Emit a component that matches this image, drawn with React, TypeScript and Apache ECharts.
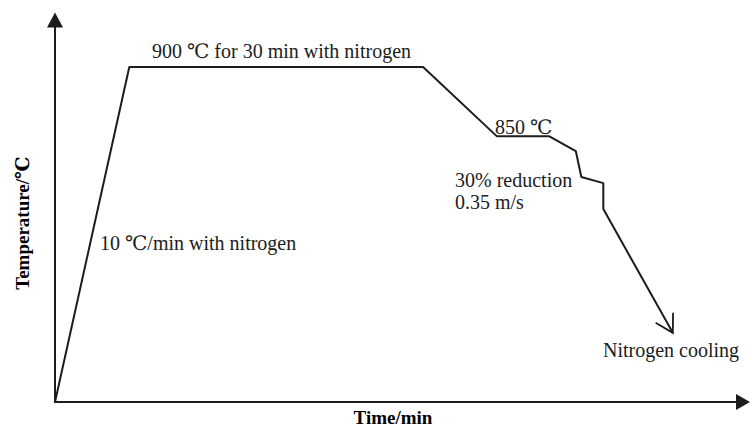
import React, { useEffect, useRef } from "react";
import * as echarts from "echarts";

// Schematic process route (abstract units 0–100 on both axes)
const timePts = [0, 10.8, 53.5, 64.2, 71.8, 75.7, 76.5, 79.7, 79.7, 89.8];
const tempPts = [0, 87.7, 87.7, 69.6, 69.6, 65.7, 58.9, 57.3, 50.5, 18.1];

const annotations = [
  "900 \u2103 for 30 min with nitrogen",
  "850 \u2103",
  "30% reduction",
  "0.35 m/s",
  "10 \u2103/min with nitrogen",
  "Nitrogen cooling",
];
const xTitle = "Time/min";
const yTitle = "Temperature/\u2103";

const FONT = "'Liberation Serif', 'Times New Roman', 'DejaVu Serif', serif";
const INK = "#1c1c1c";

export default function App() {
  const ref = useRef<HTMLDivElement>(null);

  useEffect(() => {
    document.body.style.margin = "0";
    const chart = echarts.init(ref.current!, undefined, { renderer: "svg" });
    const data = timePts.map((t, i) => [t, tempPts[i]]);

    const annPos: [number, number][] = [
      [152, 51],
      [495, 127],
      [455, 180],
      [455, 202],
      [100, 243],
      [603, 350],
    ];

    const textEls: any[] = annotations.map((txt, i) => ({
      type: "text",
      x: annPos[i][0],
      y: annPos[i][1],
      style: {
        text: txt,
        fill: INK,
        font: `20px ${FONT}`,
        align: "left",
        verticalAlign: "middle",
      },
    }));
    textEls.push({
      type: "text",
      x: 393,
      y: 417,
      style: {
        text: xTitle,
        fill: "#000",
        font: `bold 19px ${FONT}`,
        align: "center",
        verticalAlign: "middle",
      },
    });
    textEls.push({
      type: "text",
      x: 22,
      y: 223,
      rotation: Math.PI / 2,
      style: {
        text: yTitle,
        fill: "#000",
        font: `bold 19px ${FONT}`,
        align: "center",
        verticalAlign: "middle",
      },
    });

    chart.setOption({
      animation: false,
      backgroundColor: "#fff",
      grid: { left: 55, right: 7, top: 20, bottom: 24 },
      xAxis: {
        type: "value",
        min: 0,
        max: 100,
        axisLine: {
          show: true,
          onZero: false,
          symbol: ["none", "triangle"],
          symbolSize: [16, 14],
          lineStyle: { color: INK, width: 2 },
        },
        axisTick: { show: false },
        axisLabel: { show: false },
        splitLine: { show: false },
      },
      yAxis: {
        type: "value",
        min: 0,
        max: 100,
        axisLine: {
          show: true,
          onZero: false,
          symbol: ["none", "triangle"],
          symbolSize: [16, 15],
          lineStyle: { color: INK, width: 2 },
        },
        axisTick: { show: false },
        axisLabel: { show: false },
        splitLine: { show: false },
      },
      series: [
        {
          type: "line",
          data,
          symbol: "none",
          clip: false,
          lineStyle: { color: INK, width: 2 },
        },
      ],
      graphic: textEls,
    });

    // open arrowhead at the end of the cooling segment
    const n = data.length;
    const p1 = chart.convertToPixel({ gridIndex: 0 }, data[n - 2]) as number[];
    const p2 = chart.convertToPixel({ gridIndex: 0 }, data[n - 1]) as number[];
    const back = Math.atan2(p1[1] - p2[1], p1[0] - p2[0]);
    const L = 20;
    const a = (30 * Math.PI) / 180;
    const arm1 = [p2[0] + L * Math.cos(back + a), p2[1] + L * Math.sin(back + a)];
    const arm2 = [p2[0] + L * Math.cos(back - a), p2[1] + L * Math.sin(back - a)];
    chart.setOption({
      graphic: [
        ...textEls,
        {
          type: "polyline",
          shape: { points: [arm1, p2, arm2] },
          style: { stroke: INK, lineWidth: 1.8, fill: "none" },
        },
      ],
    });

    return () => chart.dispose();
  }, []);

  return (
    <div
      ref={ref}
      style={{ width: 750, height: 426, position: "fixed", left: 0, top: 0 }}
    />
  );
}
